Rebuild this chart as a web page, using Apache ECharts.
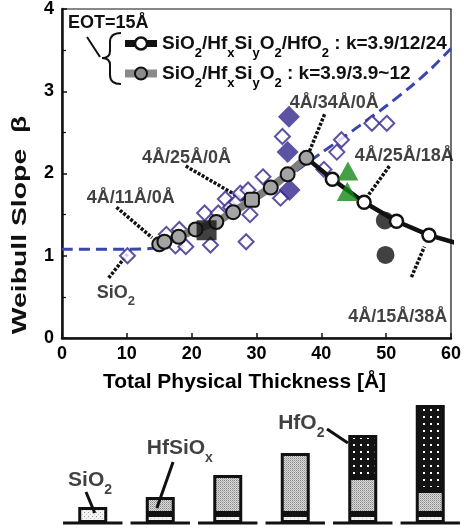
<!DOCTYPE html>
<html>
<head>
<meta charset="utf-8">
<script src="https://cdn.jsdelivr.net/npm/echarts@6/dist/echarts.min.js"></script>
<style>
  html, body { margin: 0; padding: 0; background: #fff; }
  #chart { width: 464px; height: 528px; }
</style>
</head>
<body>
<div id="chart"></div>
<script>
// ---- Weibull slope vs. total physical thickness ----
const thickCurveX = [0, 10, 14, 17, 20, 25, 30, 35, 40, 45, 50, 54, 57, 60];
const thickCurveY = [1.08, 1.08, 1.09, 1.17, 1.27, 1.45, 1.70, 1.97, 2.25, 2.53, 2.82, 3.07, 3.28, 3.52];

const openDiamondX = [10.1, 16.1, 17.5, 18.1, 19.1, 22.0, 22.9, 24.1, 25.2, 26.0, 26.9, 27.5, 28.7, 29.0, 28.4, 31.0, 33.7, 34.0, 40.4, 42.4, 43.1, 47.8, 50.1];
const openDiamondY = [1.00, 1.26, 1.12, 1.32, 1.11, 1.52, 1.13, 1.52, 1.69, 1.59, 1.65, 1.76, 1.80, 1.50, 1.17, 1.96, 1.70, 2.45, 2.05, 2.26, 2.41, 2.61, 2.61];

const filledDiamondX = [35.0, 34.8, 35.1];
const filledDiamondY = [2.69, 2.26, 1.80];

const squareX = [22.3];
const squareY = [1.31];

const triangleX = [44.1, 44.0];
const triangleY = [2.03, 1.78];

const dotX = [49.8, 49.9];
const dotY = [1.43, 1.01];

// SiO2/HfxSiyO2 bilayer, k = 3.9/3.9~12
const bilayerX = [15.0, 15.8, 18.0, 20.6, 23.8, 26.4, 29.3, 32.2, 34.8, 37.7];
const bilayerY = [1.14, 1.17, 1.23, 1.32, 1.41, 1.53, 1.68, 1.83, 1.99, 2.19];

// SiO2/HfxSiyO2/HfO2 trilayer, k = 3.9/12/24 (starts at the 4Å/34Å/0Å stack)
const trilayerX = [37.7, 41.7, 46.6, 51.6, 56.6, 61.0];
const trilayerY = [2.19, 1.93, 1.65, 1.42, 1.25, 1.15];

const xTicks = [0, 10, 20, 30, 40, 50, 60];
const yTicks = [0, 1, 2, 3, 4];

// stack annotations: [label, labelX, labelY, leaderFromX, leaderFromY, leaderToX, leaderToY]
const stackNotes = [
  ['4Å/11Å/0Å', 10.6, 1.70, 8.4, 1.59, 13.9, 1.22],
  ['4Å/25Å/0Å', 19.2, 2.19, 19.1, 2.09, 28.7, 1.65],
  ['4Å/34Å/0Å', 42.0, 2.86, 40.5, 2.72, 37.9, 2.22],
  ['4Å/25Å/18Å', 52.8, 2.21, 50.5, 2.09, 47.0, 1.71],
  ['4Å/15Å/38Å', 51.8, 0.26, 53.9, 0.74, 55.9, 1.11],
  ['SiO{s|2}', 8.3, 0.55, 7.2, 0.73, 10.1, 1.02]
];

// ---- gate-stack sketches (layer thickness, schematic units) ----
const stackNames = ['SiO2', '4/11/0', '4/25/0', '4/34/0', '4/25/18', '4/15/38'];
const sio2Layer = [16, 9, 9, 9, 9, 9];
const hfsioLayer = ['-', 17, 39, 61, 37, 24];
const hfo2Layer = ['-', '-', '-', '-', 42, 85];
// [label, labelX, labelY, leaderFromX, leaderFromY, leaderToX, leaderToY]
const layerNotes = [
  ['SiO{s|2}', 0.46, 43, 0.40, 31, 0.53, 10],
  ['HfSiO{s|x}', 1.79, 75, 1.69, 61, 1.45, 15],
  ['HfO{s|2}', 3.59, 100, 3.97, 94, 4.28, 80]
];

const FONT = "'Liberation Sans', Arial, Helvetica, sans-serif";
const NAVY = '#33278c';
const DASH_BLUE = '#3a45b0';
const GREEN = '#168816';

const zip = (xs, ys) => xs.map((x, i) => [x, ys[i]]);

// stipple fills for the layer sketches
function makePattern(w, h, bg, dots) {
  const c = document.createElement('canvas');
  c.width = w; c.height = h;
  const g = c.getContext('2d');
  g.fillStyle = bg; g.fillRect(0, 0, w, h);
  dots.forEach(([x, y, s, col]) => { g.fillStyle = col; g.fillRect(x, y, s, s); });
  return { image: c, repeat: 'repeat' };
}
const sio2Fill = makePattern(4, 4, '#f4f4f4', [[0, 0, 1, '#9a9a9a'], [2, 2, 1, '#c8c8c8']]);
const hfsioFill = makePattern(2, 2, '#d8d8d8', [[0, 0, 1, '#8a8a8a'], [1, 1, 1, '#b0b0b0']]);
const hfo2Fill = makePattern(7, 7, '#141414', [[3, 3, 2, '#ffffff']]);

const subRich = {
  s: { fontSize: 13, fontWeight: 'bold', fontFamily: FONT, color: '#000', padding: [20, 0, 0, 0] }
};

const chart = echarts.init(document.getElementById('chart'), null, { renderer: 'canvas' });

const series = [];

series.push({
  name: 'trend', type: 'line', xAxisIndex: 0, yAxisIndex: 0,
  data: zip(thickCurveX, thickCurveY), smooth: 0.3, showSymbol: false, symbol: 'none',
  lineStyle: { color: DASH_BLUE, width: 3, type: [11, 6] }, silent: true, z: 2
});

stackNotes.forEach((n, i) => {
  series.push({
    name: 'leader' + i, type: 'line', xAxisIndex: 0, yAxisIndex: 0,
    data: [[n[3], n[4]], [n[5], n[6]]], symbol: 'none', silent: true,
    lineStyle: { color: '#111', width: 3.5, type: [3, 1.6] }, z: 3
  });
});

series.push({
  name: 'open', type: 'scatter', xAxisIndex: 0, yAxisIndex: 0,
  data: zip(openDiamondX, openDiamondY), symbol: 'diamond', symbolSize: [15, 15],
  itemStyle: { color: '#fff', borderColor: NAVY, borderWidth: 2 }, z: 4
});
series.push({
  name: 'filled', type: 'scatter', xAxisIndex: 0, yAxisIndex: 0,
  data: zip(filledDiamondX, filledDiamondY), symbol: 'diamond', symbolSize: [22, 22],
  itemStyle: { color: NAVY }, z: 5
});
series.push({
  name: 'dots', type: 'scatter', xAxisIndex: 0, yAxisIndex: 0,
  data: zip(dotX, dotY), symbol: 'circle', symbolSize: 18,
  itemStyle: { color: '#111' }, z: 5
});

const TRI = 'SiO{s|2}/Hf{s|x}Si{s|y}O{s|2}/HfO{s|2} : k=3.9/12/24';
const BI = 'SiO{s|2}/Hf{s|x}Si{s|y}O{s|2} : k=3.9/3.9~12';

series.push({
  name: TRI, type: 'line', xAxisIndex: 0, yAxisIndex: 0,
  data: trilayerX.map((x, i) => {
    const hide = i === 0 || i === trilayerX.length - 1;
    return hide ? { value: [x, trilayerY[i]], symbol: 'none' } : [x, trilayerY[i]];
  }),
  symbol: 'circle', symbolSize: 13, showAllSymbol: true,
  lineStyle: { color: '#111', width: 4.5 },
  itemStyle: { color: '#fff', borderColor: '#111', borderWidth: 2.5 }, z: 6
});
series.push({
  name: BI, type: 'line', xAxisIndex: 0, yAxisIndex: 0,
  data: bilayerX.map((x, i) => i === 6 ? { value: [x, bilayerY[i]], symbol: 'roundRect' } : [x, bilayerY[i]]),
  symbol: 'circle', symbolSize: 14, showAllSymbol: true,
  lineStyle: { color: '#7f7f7f', width: 8 },
  itemStyle: { color: '#a4a4a4', borderColor: '#111', borderWidth: 2 }, z: 7
});
// square and triangles sit on their own layer, above the connected series
series.push({
  name: 'square', type: 'scatter', xAxisIndex: 0, yAxisIndex: 0, zlevel: 1,
  data: zip(squareX, squareY), symbol: 'rect', symbolSize: 20,
  itemStyle: { color: '#111' }, z: 12
});
series.push({
  name: 'tri', type: 'scatter', xAxisIndex: 0, yAxisIndex: 0, zlevel: 1,
  data: zip(triangleX, triangleY), symbol: 'triangle', symbolSize: [21, 19],
  itemStyle: { color: GREEN }, z: 12
});
series.push({
  name: 'notes', type: 'scatter', xAxisIndex: 0, yAxisIndex: 0, silent: true, zlevel: 1,
  data: stackNotes.map(n => ({ name: n[0], value: [n[1], n[2]] })),
  symbolSize: 0, z: 13,
  label: {
    show: true, position: 'inside', formatter: p => p.name,
    fontSize: 18, fontWeight: 'bold', fontFamily: FONT, color: '#111',
    rich: { s: { fontSize: 13, fontWeight: 'bold', fontFamily: FONT, color: '#111', padding: [18, 0, 0, 0] } }
  }
});

// ---- layer sketches ----
const barCommon = {
  type: 'bar', xAxisIndex: 1, yAxisIndex: 1, stack: 'gate', barWidth: 29, silent: true
};
series.push(Object.assign({}, barCommon, {
  name: 'SiO2 layer', data: sio2Layer,
  itemStyle: { color: sio2Fill, borderColor: '#111', borderWidth: 3 }
}));
series.push(Object.assign({}, barCommon, {
  name: 'HfSiOx layer', data: hfsioLayer,
  itemStyle: { color: hfsioFill, borderColor: '#111', borderWidth: 3 }
}));
series.push(Object.assign({}, barCommon, {
  name: 'HfO2 layer', data: hfo2Layer,
  itemStyle: { color: hfo2Fill, borderColor: '#111', borderWidth: 3 }
}));
// substrate line under each sketch
stackNames.forEach((s, i) => {
  series.push({
    name: 'substrate' + i, type: 'line', xAxisIndex: 2, yAxisIndex: 1, clip: false,
    data: [[i + 0.06, 0], [i + 0.94, 0]], symbol: 'none', silent: true,
    lineStyle: { color: '#111', width: 3 }, z: 6
  });
});
layerNotes.forEach((n, i) => {
  series.push({
    name: 'layerLeader' + i, type: 'line', xAxisIndex: 2, yAxisIndex: 1,
    data: [[n[3], n[4]], [n[5], n[6]]], symbol: 'none', silent: true,
    lineStyle: { color: '#111', width: 3 }, z: 6
  });
});
series.push({
  name: 'layerNotes', type: 'scatter', xAxisIndex: 2, yAxisIndex: 1, silent: true,
  data: layerNotes.map(n => ({ name: n[0], value: [n[1], n[2]] })),
  symbolSize: 0, z: 9,
  label: {
    show: true, position: 'inside', formatter: p => p.name,
    fontSize: 21, fontWeight: 'bold', fontFamily: FONT, color: '#111',
    rich: { s: { fontSize: 14, fontWeight: 'bold', fontFamily: FONT, color: '#111', padding: [20, 0, 0, 0] } }
  }
});

const axisFont = { color: '#000', fontSize: 18, fontWeight: 'bold', fontFamily: FONT };

// curly brace grouping the two legend entries
const braceStyle = { stroke: '#111', lineWidth: 2, fill: null };
const brace = [
  { type: 'bezierCurve', shape: { x1: 121, y1: 33, cpx1: 110, cpy1: 33, x2: 110, y2: 42 }, style: braceStyle },
  { type: 'line', shape: { x1: 110, y1: 42, x2: 110, y2: 51 }, style: braceStyle },
  { type: 'bezierCurve', shape: { x1: 110, y1: 51, cpx1: 110, cpy1: 58, x2: 102, y2: 58 }, style: braceStyle },
  { type: 'bezierCurve', shape: { x1: 102, y1: 58, cpx1: 110, cpy1: 58, x2: 110, y2: 65 }, style: braceStyle },
  { type: 'line', shape: { x1: 110, y1: 65, x2: 110, y2: 75 }, style: braceStyle },
  { type: 'bezierCurve', shape: { x1: 110, y1: 75, cpx1: 110, cpy1: 84, x2: 121, y2: 84 }, style: braceStyle }
];

chart.setOption({
  animation: false,
  backgroundColor: '#fff',
  grid: [
    { left: 62, top: 9, width: 393, height: 329, show: true, borderColor: '#111', borderWidth: 1.2, backgroundColor: 'transparent' },
    { left: 59, top: 403, width: 405, height: 123 }
  ],
  xAxis: [
    {
      gridIndex: 0, type: 'value', min: xTicks[0], max: xTicks[xTicks.length - 1], interval: 10,
      axisLine: { onZero: false, lineStyle: { color: '#111', width: 2.5 } },
      axisTick: { inside: true, length: 5, lineStyle: { color: '#111', width: 1.5 } },
      axisLabel: Object.assign({ margin: 7 }, axisFont),
      splitLine: { show: false },
      name: 'Total Physical Thickness [Å]', nameLocation: 'middle', nameGap: 34,
      nameTextStyle: { color: '#000', fontSize: 21, fontWeight: 'bold', fontFamily: FONT, padding: [0, 24, 0, 0] }
    },
    { gridIndex: 1, type: 'category', data: stackNames, boundaryGap: true, show: false },
    { gridIndex: 1, type: 'value', min: 0, max: 6, show: false }
  ],
  yAxis: [
    {
      gridIndex: 0, type: 'value', min: yTicks[0], max: yTicks[yTicks.length - 1], interval: 1,
      axisLine: { show: true, onZero: false, lineStyle: { color: '#111', width: 2.5 } },
      axisTick: { show: true, inside: true, length: 5, lineStyle: { color: '#111', width: 1.5 } },
      minorTick: { show: true, splitNumber: 2, length: 4, lineStyle: { color: '#111', width: 1.2 } },
      axisLabel: Object.assign({ margin: 8 }, axisFont),
      splitLine: { show: false }, minorSplitLine: { show: false }
    },
    { gridIndex: 1, type: 'value', min: -3, max: 120, show: false }
  ],
  legend: {
    orient: 'vertical', left: 116, top: 29, itemWidth: 32, itemHeight: 15, itemGap: 4,
    selectedMode: false,
    textStyle: { color: '#111', fontSize: 19, fontWeight: 'bold', fontFamily: FONT, rich: subRich },
    data: [
      { name: TRI,
        itemStyle: { color: '#fff', borderColor: '#111', borderWidth: 2.5 },
        lineStyle: { color: '#111', width: 7 } },
      { name: BI,
        itemStyle: { color: '#8c8c8c', borderColor: '#111', borderWidth: 2 },
        lineStyle: { color: '#8a8a8a', width: 8 } }
    ]
  },
  graphic: [
    { type: 'text', x: 68, y: 23, style: { text: 'EOT=15Å', font: 'bold 18px ' + FONT, fill: '#111', textVerticalAlign: 'middle' } },
    { type: 'line', shape: { x1: 87, y1: 37, x2: 100, y2: 57 }, style: { stroke: '#111', lineWidth: 2 } }
  ].concat(brace).concat([
    { type: 'text', x: 20, y: 225, rotation: Math.PI / 2, scaleX: 1.35,
      style: { text: 'Weibull Slope  β', font: 'bold 21px ' + FONT, fill: '#111', textAlign: 'center', textVerticalAlign: 'middle' } }
  ]),
  series: series
});
</script>
</body>
</html>
